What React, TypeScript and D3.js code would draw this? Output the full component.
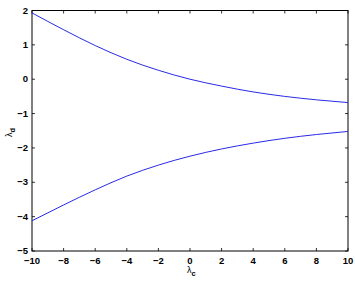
import React from "react";
import * as d3 from "d3";

const xValues = [-10, -8, -6, -4, -2, 0, 2, 4, 6, 8, 10];
const upperSeries = [1.93, 1.44, 0.98, 0.58, 0.26, 0.0, -0.2, -0.37, -0.5, -0.6, -0.68];
const lowerSeries = [-4.12, -3.66, -3.22, -2.82, -2.5, -2.24, -2.03, -1.86, -1.72, -1.61, -1.52];
const xTicks = [-10, -8, -6, -4, -2, 0, 2, 4, 6, 8, 10];
const yTicks = [-5, -4, -3, -2, -1, 0, 1, 2];

export default function App() {
  const W = 355, H = 282;
  const left = 32, right = 348, top = 10.5, bottom = 251;
  const x = d3.scaleLinear().domain([-10, 10]).range([left, right]);
  const y = d3.scaleLinear().domain([-5, 2]).range([bottom, top]);
  const line = d3
    .line<number>()
    .x((_, i) => x(xValues[i]))
    .y((d) => y(d))
    .curve(d3.curveMonotoneX);
  const fmt = (v: number) => (v < 0 ? "\u2212" + Math.abs(v) : String(v));
  const tl = 3;
  const font = "Liberation Sans, Arial, Helvetica, sans-serif";
  return (
    <svg width={W} height={H} style={{ position: "absolute", left: 0, top: 0, background: "#fff" }}>
      <rect x={0} y={0} width={W} height={H} fill="#fff" />
      {xTicks.map((t) => (
        <g key={"x" + t}>
          <line x1={x(t)} x2={x(t)} y1={bottom} y2={bottom - tl} stroke="#000" strokeWidth={0.8} />
          <line x1={x(t)} x2={x(t)} y1={top} y2={top + tl} stroke="#000" strokeWidth={0.8} />
          <text x={x(t)} y={263.5} textAnchor="middle" fontFamily={font} fontSize={9.5} fontWeight="bold" fill="#000">
            {fmt(t)}
          </text>
        </g>
      ))}
      {yTicks.map((t) => (
        <g key={"y" + t}>
          <line x1={left} x2={left + tl} y1={y(t)} y2={y(t)} stroke="#000" strokeWidth={0.8} />
          <line x1={right} x2={right - tl} y1={y(t)} y2={y(t)} stroke="#000" strokeWidth={0.8} />
          <text x={28} y={y(t) + 3.2} textAnchor="end" fontFamily={font} fontSize={9.5} fontWeight="bold" fill="#000">
            {fmt(t)}
          </text>
        </g>
      ))}
      <rect x={left} y={top} width={right - left} height={bottom - top} fill="none" stroke="#000" strokeWidth={1} />
      <path d={line(upperSeries) || ""} fill="none" stroke="#2a2ae6" strokeWidth={1} />
      <path d={line(lowerSeries) || ""} fill="none" stroke="#2a2ae6" strokeWidth={1} />
      <text x={187} y={273} fontFamily={font} fontSize={9} fill="#000">
        λ<tspan dy={2.5} fontSize={7.5} fontWeight="bold">c</tspan>
      </text>
      <text transform="translate(12,137) rotate(-90)" fontFamily={font} fontSize={9} fill="#000">
        λ<tspan dy={2.5} fontSize={7.5} fontWeight="bold">d</tspan>
      </text>
    </svg>
  );
}
